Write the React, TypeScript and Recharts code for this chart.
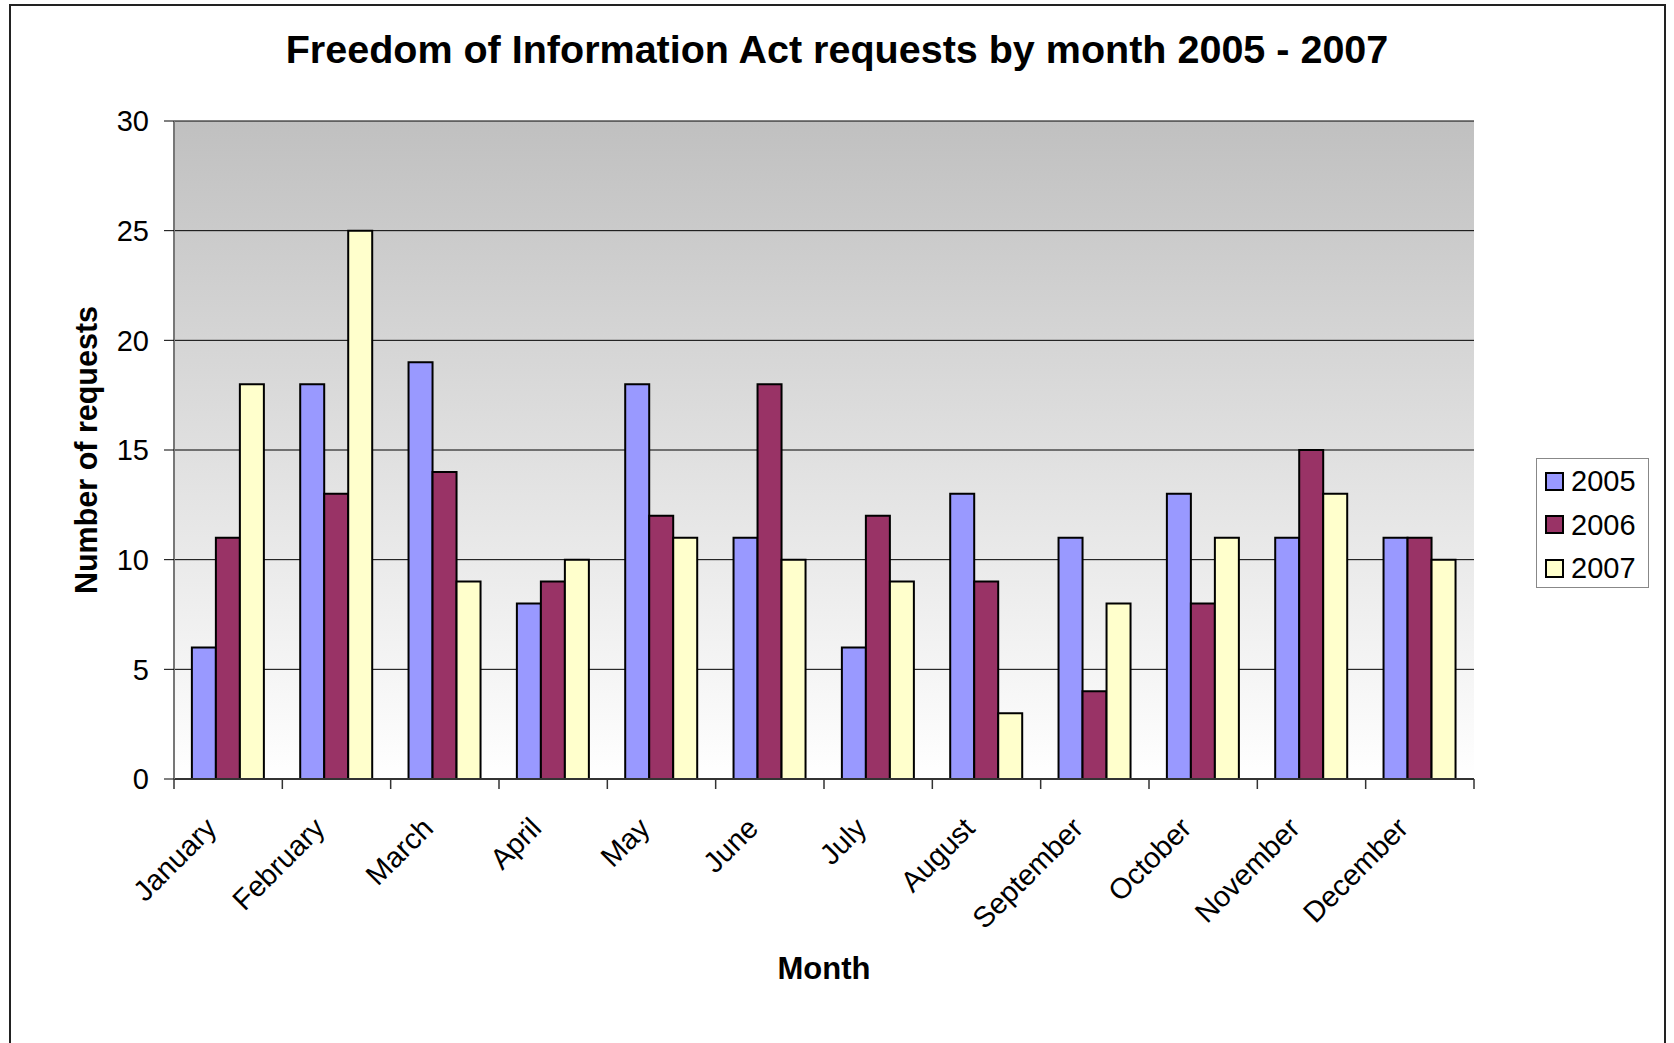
import React from 'react';
import { BarChart, Bar, XAxis, YAxis, CartesianGrid } from 'recharts';

const months = ['January', 'February', 'March', 'April', 'May', 'June', 'July', 'August', 'September', 'October', 'November', 'December'];
const v2005 = [6, 18, 19, 8, 18, 11, 6, 13, 11, 13, 11, 11];
const v2006 = [11, 13, 14, 9, 12, 18, 12, 9, 4, 8, 15, 11];
const v2007 = [18, 25, 9, 10, 11, 10, 9, 3, 8, 11, 13, 10];
const yTicks = [0, 5, 10, 15, 20, 25, 30];
const seriesKeys = ['s2005', 's2006', 's2007'];
const seriesNames = ['2005', '2006', '2007'];
const seriesColors = ['#9999FF', '#993366', '#FFFFCC'];

const data = months.map((m, i) => ({ month: m, s2005: v2005[i], s2006: v2006[i], s2007: v2007[i] }));

const FONT = '"Liberation Sans", Arial, Helvetica, sans-serif';
const W = 1674;
const H = 1043;
const MARGIN = { top: 121, right: 200, bottom: 164, left: 114 };
const YAXIS_W = 60;
const XAXIS_H = 100;
const BAND = (W - MARGIN.left - MARGIN.right - YAXIS_W) / months.length;

const MonthTick = (props: any) => {
  const { x, y, payload, index } = props;
  const half = payload && payload.offset ? payload.offset : BAND / 2;
  const tx = x - 10;
  const ty = y + 51;
  return (
    <g>
      <line x1={x - half} x2={x - half} y1={y} y2={y + 10} stroke="#333" strokeWidth={1.5} />
      {index === months.length - 1 && (
        <line x1={x + half} x2={x + half} y1={y} y2={y + 10} stroke="#333" strokeWidth={1.5} />
      )}
      <text x={tx} y={ty} transform={`rotate(-45, ${tx}, ${ty})`} textAnchor="end" fontSize={29} fontFamily={FONT} fill="#000">
        {payload.value}
      </text>
    </g>
  );
};

const XTitle = (props: any) => {
  const vb = props.viewBox || { x: 174, y: 779, width: 1300, height: 100 };
  return (
    <text x={vb.x + vb.width / 2} y={vb.y + 200} textAnchor="middle" fontSize={31} fontWeight="bold" fontFamily={FONT} fill="#000">
      Month
    </text>
  );
};

const YTitle = (props: any) => {
  const vb = props.viewBox || { x: 114, y: 121, width: 60, height: 658 };
  const cx = vb.x - 17;
  const cy = vb.y + vb.height / 2;
  return (
    <text x={cx} y={cy} transform={`rotate(-90, ${cx}, ${cy})`} textAnchor="middle" fontSize={30.5} fontWeight="bold" fontFamily={FONT} fill="#000">
      Number of requests
    </text>
  );
};

export default function App() {
  return (
    <div style={{ position: 'absolute', left: 0, top: 0, width: W, height: H, overflow: 'hidden', background: '#fff', fontFamily: FONT }}>
      <div style={{ position: 'absolute', left: 9, top: 4, width: 1657, height: 1100, border: '2px solid #222', boxSizing: 'border-box' }} />
      <div style={{ position: 'absolute', left: 10, top: 30, width: 1654, textAlign: 'center', fontSize: 39.5, fontWeight: 'bold', lineHeight: '39px', color: '#000', whiteSpace: 'nowrap' }}>
        Freedom of Information Act requests by month 2005 - 2007
      </div>
      <div style={{ position: 'absolute', left: 0, top: 0 }}>
        <BarChart width={W} height={H} data={data} margin={MARGIN} barCategoryGap="16.5%" barGap={0}>
          <defs>
            <linearGradient id="plotBg" x1="0" y1="0" x2="0" y2="1">
              <stop offset="0%" stopColor="#c0c0c0" />
              <stop offset="100%" stopColor="#ffffff" />
            </linearGradient>
          </defs>
          <CartesianGrid vertical={false} stroke="#000" strokeWidth={1} fill="url(#plotBg)" fillOpacity={1} />
          <XAxis
            dataKey="month"
            height={XAXIS_H}
            interval={0}
            tickSize={0}
            tickMargin={0}
            tickLine={false}
            tick={<MonthTick />}
            axisLine={{ stroke: '#333', strokeWidth: 2 }}
            label={<XTitle />}
          />
          <XAxis xAxisId="top" orientation="top" dataKey="month" height={0} tick={false} tickLine={false} axisLine={{ stroke: '#999', strokeWidth: 2 }} />
          <YAxis
            domain={[0, 30]}
            ticks={yTicks}
            width={YAXIS_W}
            interval={0}
            tickSize={10}
            tickMargin={15}
            tickLine={{ stroke: '#000', strokeWidth: 1 }}
            axisLine={{ stroke: '#777', strokeWidth: 2 }}
            tick={{ fontSize: 29, fontFamily: FONT, fill: '#000' }}
            label={<YTitle />}
          />
          <YAxis yAxisId="right" orientation="right" width={0} domain={[0, 30]} tick={false} tickLine={false} axisLine={{ stroke: '#999', strokeWidth: 2 }} />
          {seriesKeys.map((k, i) => (
            <Bar key={k} dataKey={k} name={seriesNames[i]} fill={seriesColors[i]} stroke="#000" strokeWidth={2} isAnimationActive={false} />
          ))}
        </BarChart>
      </div>
      <div style={{ position: 'absolute', left: 1536, top: 458, width: 113, height: 130, border: '1px solid #888', boxSizing: 'border-box', background: '#fff' }}>
        {seriesNames.map((n, i) => (
          <div key={n} style={{ position: 'absolute', left: 8, top: 7 + i * 43.5, height: 30, display: 'flex', alignItems: 'center' }}>
            <div style={{ width: 19, height: 19, boxSizing: 'border-box', border: '2px solid #000', background: seriesColors[i] }} />
            <div style={{ marginLeft: 7, fontSize: 29, lineHeight: '30px', color: '#000' }}>{n}</div>
          </div>
        ))}
      </div>
    </div>
  );
}
